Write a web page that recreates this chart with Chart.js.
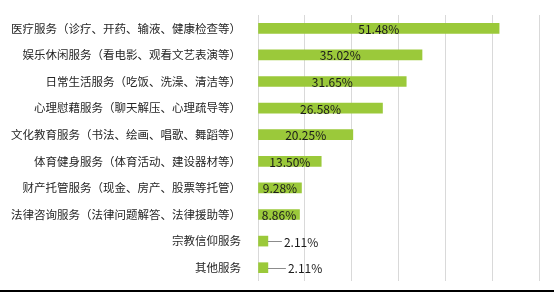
<!DOCTYPE html>
<html>
<head>
<meta charset="utf-8">
<script src="https://cdn.jsdelivr.net/npm/chart.js@4/dist/chart.umd.min.js"></script>
<style>
  html, body { margin: 0; padding: 0; background: #fff; }
  #wrap { width: 554px; height: 296px; }
</style>
</head>
<body>
<div id="wrap"><canvas id="c" width="554" height="296"></canvas></div>
<script>
const categories = [
  "医疗服务（诊疗、开药、输液、健康检查等）",
  "娱乐休闲服务（看电影、观看文艺表演等）",
  "日常生活服务（吃饭、洗澡、清洁等）",
  "心理慰藉服务（聊天解压、心理疏导等）",
  "文化教育服务（书法、绘画、唱歌、舞蹈等）",
  "体育健身服务（体育活动、建设器材等）",
  "财产托管服务（现金、房产、股票等托管）",
  "法律咨询服务（法律问题解答、法律援助等）",
  "宗教信仰服务",
  "其他服务"
];
const values = [51.48, 35.02, 31.65, 26.58, 20.25, 13.50, 9.28, 8.86, 2.11, 2.11];
const xTicks = [0, 10, 20, 30, 40, 50, 60];

const FONT = '"Noto Sans CJK SC", "Noto Sans", sans-serif';

const labelPlugin = {
  id: 'barLabels',
  afterDatasetsDraw(chart) {
    const ctx = chart.ctx;
    const meta = chart.getDatasetMeta(0);
    ctx.save();
    ctx.font = '12px ' + FONT;
    ctx.textBaseline = 'middle';
    meta.data.forEach((bar, i) => {
      const v = values[i];
      const txt = v.toFixed(2) + '%';
      if (v < 5) {
        const x0 = bar.x;
        const x1 = bar.x + 14 + (i === values.length - 1 ? 4 : 0);
        ctx.strokeStyle = '#8c8c8c';
        ctx.lineWidth = 1;
        ctx.beginPath();
        ctx.moveTo(x0, Math.round(bar.y) + 0.5);
        ctx.lineTo(x1, Math.round(bar.y) + 0.5);
        ctx.stroke();
        ctx.fillStyle = '#1a1a1a';
        ctx.textAlign = 'left';
        ctx.fillText(txt, x1 + 2, bar.y + 1);
      } else {
        ctx.fillStyle = '#1a1a1a';
        ctx.textAlign = 'center';
        ctx.fillText(txt, (bar.x + bar.base) / 2, bar.y + 1);
      }
    });
    ctx.restore();
  },
  afterDraw(chart) {
    const ctx = chart.ctx;
    ctx.save();
    ctx.fillStyle = '#000';
    ctx.fillRect(0, 290, chart.width, 2);
    ctx.restore();
  }
};

new Chart(document.getElementById('c'), {
  type: 'bar',
  data: {
    labels: categories,
    datasets: [{
      data: values,
      backgroundColor: '#9bc93a',
      borderWidth: 0,
      barThickness: 10
    }]
  },
  options: {
    indexAxis: 'y',
    responsive: false,
    animation: false,
    layout: { padding: { top: 15, bottom: 15, right: 15, left: 0 } },
    plugins: { legend: { display: false }, tooltip: { enabled: false } },
    scales: {
      x: {
        min: 0, max: 60,
        afterBuildTicks(scale) { scale.ticks = xTicks.map(v => ({ value: v })); },
        ticks: { display: false },
        grid: { color: '#d9d9d9', lineWidth: 1, drawTicks: false },
        border: { display: false }
      },
      y: {
        afterFit(scale) {
          scale.width = 258;
          scale.paddingTop = 0;
          scale.paddingBottom = 0;
        },
        ticks: {
          padding: 17,
          color: '#262626',
          font: { family: FONT, size: 11.5 }
        },
        grid: { display: false, drawTicks: false },
        border: { display: false }
      }
    }
  },
  plugins: [labelPlugin]
});
</script>
</body>
</html>
